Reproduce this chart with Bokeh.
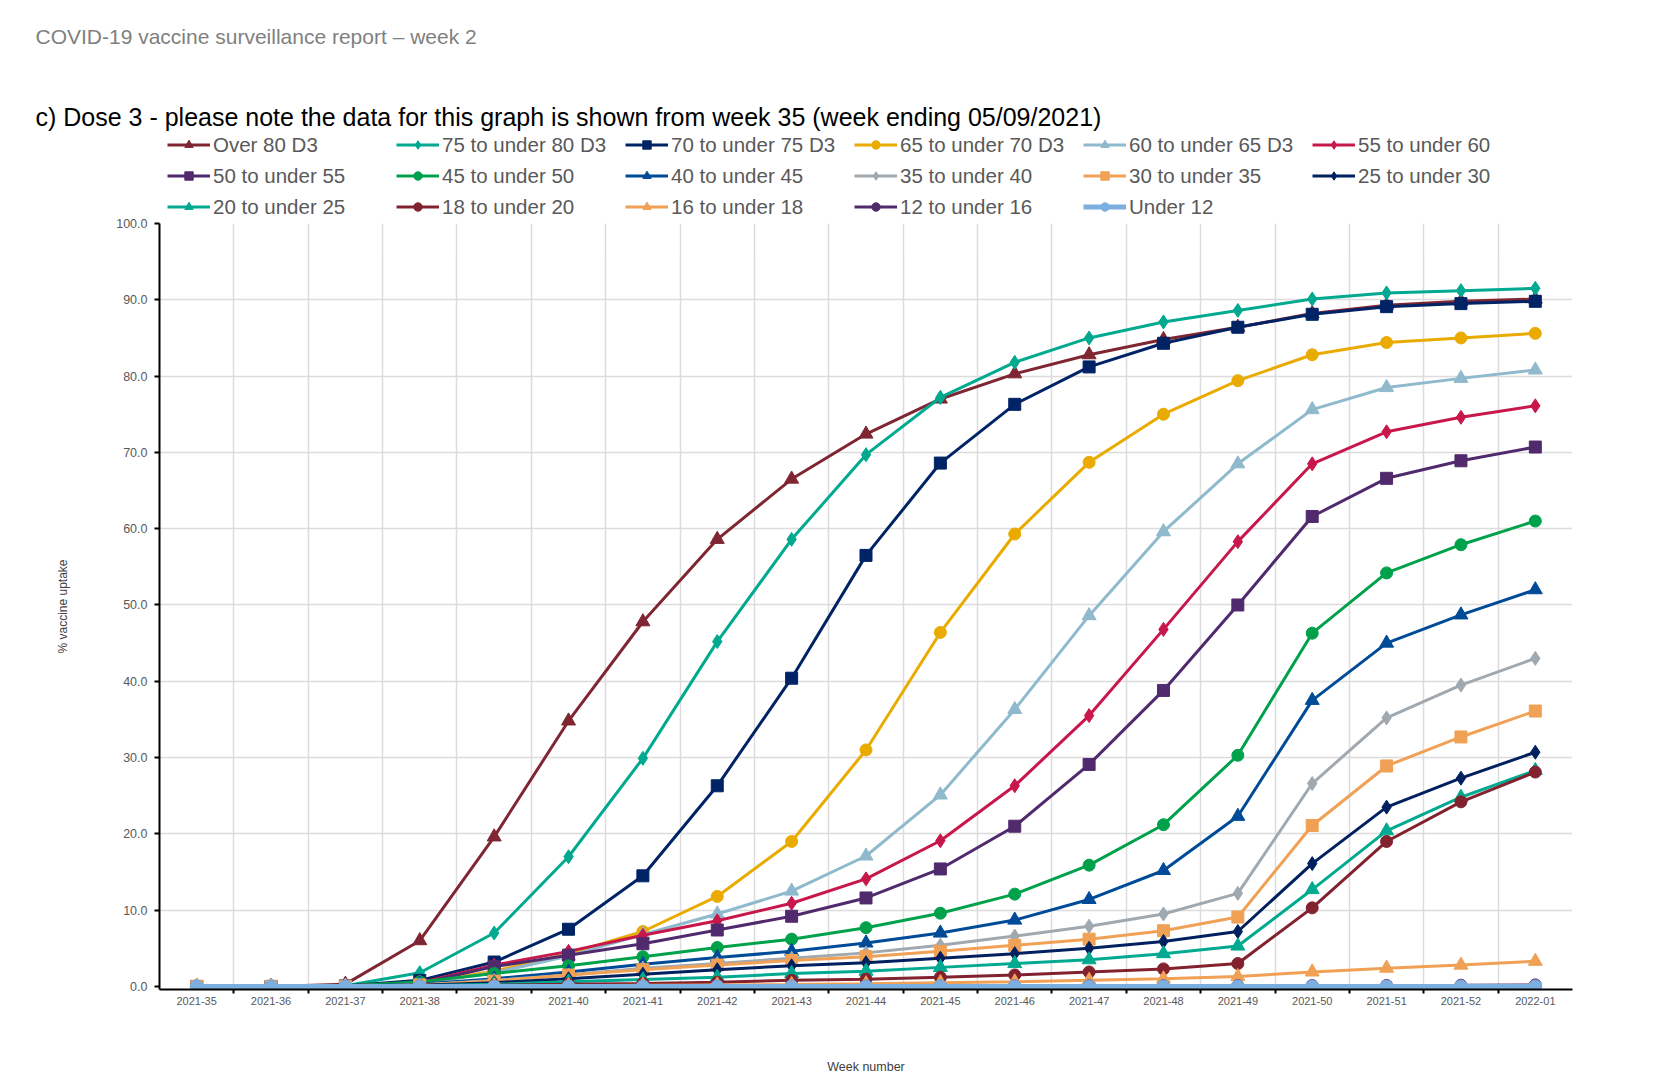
from bokeh.plotting import figure
from bokeh.layouts import column
from bokeh.models import Range1d, FixedTicker, NumeralTickFormatter, Legend, LegendItem, Title
from bokeh.embed import file_html
from bokeh.resources import INLINE

weeks = ["2021-35", "2021-36", "2021-37", "2021-38", "2021-39", "2021-40", "2021-41",
         "2021-42", "2021-43", "2021-44", "2021-45", "2021-46", "2021-47", "2021-48",
         "2021-49", "2021-50", "2021-51", "2021-52", "2022-01"]

over_80 = [0, 0, 0.3, 6.0, 19.6, 34.8, 47.8, 58.6, 66.5, 72.4, 77.0, 80.3, 82.8, 84.8, 86.4, 88.2, 89.3, 89.8, 90.1]
age_75_80 = [0, 0, 0.1, 1.8, 7.0, 17.0, 29.9, 45.2, 58.6, 69.7, 77.2, 81.8, 85.0, 87.1, 88.6, 90.1, 90.9, 91.2, 91.5]
age_70_75 = [0, 0, 0.05, 0.8, 3.2, 7.5, 14.5, 26.3, 40.4, 56.5, 68.6, 76.3, 81.2, 84.3, 86.4, 88.1, 89.1, 89.5, 89.8]
age_65_70 = [0, 0, 0.05, 0.5, 2.0, 4.3, 7.2, 11.8, 19.0, 31.0, 46.4, 59.3, 68.7, 75.0, 79.4, 82.8, 84.4, 85.0, 85.6]
age_60_65 = [0, 0, 0.05, 0.4, 1.8, 4.0, 6.8, 9.5, 12.5, 17.1, 25.1, 36.3, 48.6, 59.6, 68.5, 75.6, 78.5, 79.7, 80.8]
age_55_60 = [0, 0, 0.05, 0.5, 2.8, 4.6, 6.7, 8.6, 10.9, 14.1, 19.1, 26.3, 35.5, 46.8, 58.3, 68.5, 72.7, 74.6, 76.1]
age_50_55 = [0, 0, 0.05, 0.4, 2.6, 4.1, 5.6, 7.4, 9.2, 11.6, 15.4, 21.0, 29.1, 38.8, 50.0, 61.6, 66.6, 68.9, 70.7]
age_45_50 = [0, 0, 0.03, 0.6, 1.7, 2.7, 3.9, 5.1, 6.2, 7.7, 9.6, 12.1, 15.9, 21.2, 30.3, 46.3, 54.2, 57.9, 61.0]
age_40_45 = [0, 0, 0.02, 0.3, 1.0, 1.9, 2.9, 3.8, 4.6, 5.7, 7.0, 8.7, 11.4, 15.2, 22.3, 37.5, 45.0, 48.7, 52.0]
age_35_40 = [0, 0, 0.02, 0.2, 0.8, 1.5, 2.4, 3.0, 3.7, 4.4, 5.4, 6.6, 7.9, 9.5, 12.2, 26.6, 35.2, 39.5, 43.0]
age_30_35 = [0, 0, 0.02, 0.2, 0.7, 1.5, 2.2, 2.8, 3.4, 3.9, 4.6, 5.4, 6.2, 7.3, 9.1, 21.1, 28.9, 32.7, 36.1]
age_25_30 = [0, 0, 0.01, 0.15, 0.5, 1.0, 1.6, 2.2, 2.7, 3.1, 3.7, 4.3, 5.0, 5.9, 7.2, 16.1, 23.5, 27.3, 30.7]
age_20_25 = [0, 0, 0.01, 0.1, 0.3, 0.6, 0.9, 1.2, 1.7, 2.0, 2.5, 3.0, 3.5, 4.3, 5.3, 12.7, 20.4, 24.8, 28.3]
age_18_20 = [0, 0, 0, 0.05, 0.15, 0.3, 0.4, 0.55, 0.8, 0.95, 1.2, 1.5, 1.9, 2.3, 3.0, 10.3, 19.0, 24.2, 28.1]
age_16_18 = [0, 0, 0, 0, 0.05, 0.1, 0.15, 0.2, 0.25, 0.35, 0.5, 0.6, 0.8, 1.0, 1.3, 1.9, 2.4, 2.8, 3.3]
age_12_16 = [0, 0, 0, 0, 0, 0.01, 0.02, 0.03, 0.04, 0.05, 0.06, 0.07, 0.08, 0.09, 0.1, 0.12, 0.14, 0.16, 0.2]
under_12 = [0, 0, 0, 0, 0, 0, 0, 0, 0, 0, 0, 0, 0, 0, 0, 0, 0, 0, 0]

labels = ["Over 80 D3", "75 to under 80 D3", "70 to under 75 D3", "65 to under 70 D3",
          "60 to under 65 D3", "55 to under 60", "50 to under 55", "45 to under 50",
          "40 to under 45", "35 to under 40", "30 to under 35", "25 to under 30",
          "20 to under 25", "18 to under 20", "16 to under 18", "12 to under 16", "Under 12"]
series = [over_80, age_75_80, age_70_75, age_65_70, age_60_65, age_55_60, age_50_55,
          age_45_50, age_40_45, age_35_40, age_30_35, age_25_30, age_20_25, age_18_20,
          age_16_18, age_12_16, under_12]
colors = ["#7F2632", "#00A98F", "#002366", "#EAAB00", "#8FB9CC", "#C8174B", "#512A6E",
          "#00A14B", "#004B98", "#A0A8B0", "#F0A155", "#00205F", "#00A98F", "#82222E",
          "#F0A155", "#512A6E", "#7CAEDF"]
markers = ["triangle", "diamond", "square", "circle", "triangle", "diamond", "square",
           "circle", "triangle", "diamond", "square", "diamond", "triangle", "circle",
           "triangle", "circle", "circle"]

header_text = "COVID-19 vaccine surveillance report \u2013 week 2"
title_text = "c) Dose 3 - please note the data for this graph is shown from week 35 (week ending 05/09/2021)"

FONT = "Liberation Sans"
FW, FH = 1413, 766
LEFT, RIGHT = 159, 40
TOTAL_W = LEFT + FW + RIGHT
HEAD_H = 99
TOP_H = 118
xs = list(range(len(weeks)))


def strip(h):
    f = figure(width=TOTAL_W, height=h, output_backend="svg", toolbar_location=None,
               x_range=Range1d(0, TOTAL_W), y_range=Range1d(0, h), min_border=0,
               x_axis_location=None, y_axis_location=None, title_location=None)
    f.grid.visible = False
    f.outline_line_color = None
    return f


# ---- report header strip ----
head = strip(HEAD_H)
head.add_layout(Title(text=header_text, align="left", offset=-124, standoff=44, text_font=FONT,
                      text_font_size="21px", text_font_style="normal", text_color="#7F7F7F"), "above")

# ---- chart title + legend strip ----
top = strip(TOP_H)
top.extra_y_ranges = {"swatch": Range1d(500, 600)}   # keeps the swatch glyphs out of view
top.add_layout(Title(text=title_text, align="left", offset=-124, standoff=2, text_font=FONT,
                     text_font_size="25px", text_font_style="normal", text_color="black"), "above")

# ---- main chart ----
p = figure(frame_width=FW, frame_height=FH, output_backend="svg", toolbar_location=None,
           x_range=Range1d(-0.5, len(weeks) - 0.5), y_range=Range1d(-0.4, 100),
           title_location=None, min_border_left=LEFT, min_border_right=RIGHT,
           min_border_top=6, min_border_bottom=90)
p.outline_line_color = None
p.background_fill_color = "white"

items = []
for lab, ys, col, mk in zip(labels, series, colors, markers):
    big = lab == "Under 12"
    lw = 5 if big else 3
    sz = 13 if big else (14 if mk in ("diamond", "triangle") else 12)
    p.line(xs, ys, line_color=col, line_width=lw)
    p.scatter(xs, ys, marker=mk, size=sz, fill_color=col, line_color=col)
    lr = top.line(xs, ys, line_color=col, line_width=lw, y_range_name="swatch")
    sr = top.scatter(xs, ys, marker=mk, size=10, fill_color=col, line_color=col,
                     y_range_name="swatch")
    items.append(LegendItem(label=lab, renderers=[lr, sr]))

# legend rows: location = (x from frame left, legend bottom from frame bottom)
row_bottoms = [60.5, 29.5, -1.5]
for k, yb in enumerate(row_bottoms):
    lg = Legend(items=items[6 * k:6 * k + 6], orientation="horizontal", location=(8, yb),
                glyph_width=43, glyph_height=21, label_height=21, label_width=172,
                label_standoff=3, spacing=11, padding=5, margin=0,
                label_text_font=FONT, label_text_font_size="20.5px", label_text_color="#595959",
                background_fill_alpha=0, border_line_color=None)
    top.add_layout(lg)

# x axis
p.xaxis.ticker = FixedTicker(ticks=xs, minor_ticks=[i + 0.5 for i in xs[:-1]])
p.xaxis.major_label_overrides = {i: w for i, w in zip(xs, weeks)}
p.xaxis.major_tick_line_color = None
p.xaxis.major_tick_out = 4
p.xaxis.minor_tick_out = 4
p.xaxis.minor_tick_in = 0
p.xaxis.minor_tick_line_color = "black"
p.xaxis.minor_tick_line_width = 2
p.xaxis.major_label_standoff = 3
p.xaxis.major_label_text_font = FONT
p.xaxis.major_label_text_font_size = "11px"
p.xaxis.major_label_text_color = "#595959"
p.xaxis.axis_label = "Week number"
p.xaxis.axis_label_text_font = FONT
p.xaxis.axis_label_text_font_size = "12.5px"
p.xaxis.axis_label_text_font_style = "normal"
p.xaxis.axis_label_text_color = "#404040"
p.xaxis.axis_label_standoff = 52

# y axis
p.yaxis.ticker = FixedTicker(ticks=list(range(0, 101, 10)))
p.yaxis.formatter = NumeralTickFormatter(format="0.0")
p.yaxis.minor_tick_line_color = None
p.yaxis.major_tick_out = 5
p.yaxis.major_tick_in = 0
p.yaxis.major_tick_line_width = 2
p.yaxis.major_tick_line_color = "black"
p.yaxis.major_label_standoff = 7
p.yaxis.major_label_text_font = FONT
p.yaxis.major_label_text_font_size = "12.5px"
p.yaxis.major_label_text_color = "#595959"
p.yaxis.axis_label = "% vaccine uptake"
p.yaxis.axis_label_text_font = FONT
p.yaxis.axis_label_text_font_size = "12px"
p.yaxis.axis_label_text_font_style = "normal"
p.yaxis.axis_label_text_color = "#404040"
p.yaxis.axis_label_standoff = 43

for ax in (p.xaxis, p.yaxis):
    ax.axis_line_color = "black"
    ax.axis_line_width = 2

p.xgrid.ticker = FixedTicker(ticks=[i + 0.5 for i in xs])
p.ygrid.ticker = FixedTicker(ticks=list(range(10, 101, 10)))
for g in (p.xgrid, p.ygrid):
    g.grid_line_color = "#DCDCDC"
    g.grid_line_width = 1.5

layout = column(head, top, p, spacing=0)
open("out.html", "w").write(file_html(layout, INLINE))
